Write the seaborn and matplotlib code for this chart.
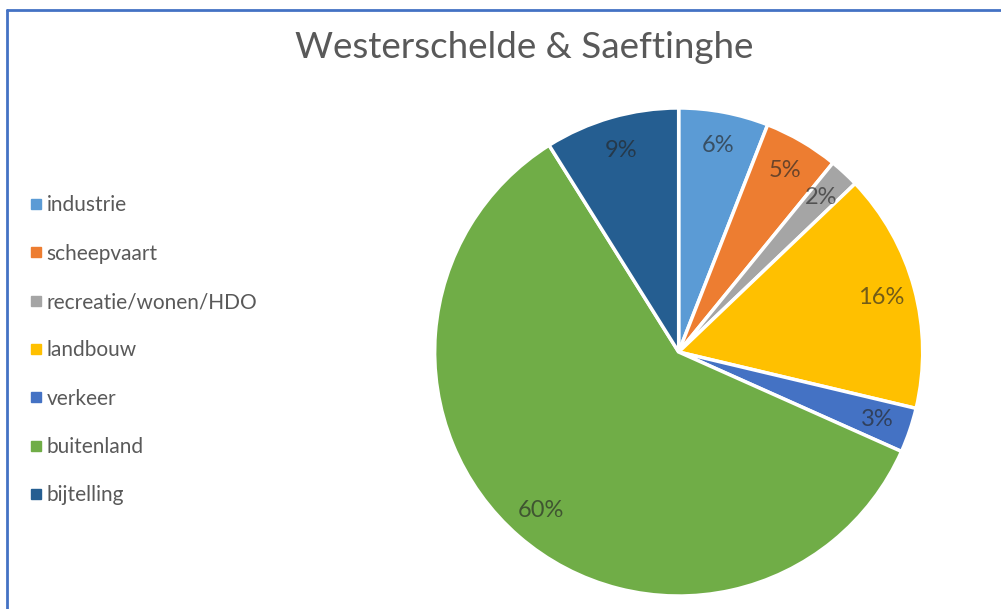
#%% import libraries
import matplotlib
matplotlib.use('Agg')
import matplotlib.pyplot as plt
import seaborn as sns
from matplotlib.lines import Line2D

#%% data
categories = ['industrie', 'scheepvaart', 'recreatie/wonen/HDO', 'landbouw',
              'verkeer', 'buitenland', 'bijtelling']
shares = [6, 5, 2, 16, 3, 60, 9]
colors = ['#5B9BD5', '#ED7D31', '#A5A5A5', '#FFC000', '#4472C4', '#70AD47', '#255E91']
title = 'Westerschelde & Saeftinghe'

#%% plot
sns.set_theme(style='white')
plt.rcParams['font.family'] = ['Lato', 'DejaVu Sans']
palette = sns.color_palette(colors)

fig = plt.figure(figsize=(10.01, 6.09), dpi=100)
ax = fig.add_axes([0.678 - 0.2438, 0.422 - 0.4007, 0.4876, 0.8014])

pct = iter(shares)
wedges, texts, autotexts = ax.pie(
    shares,
    colors=palette,
    startangle=90,
    counterclock=False,
    radius=1,
    autopct=lambda p: f'{next(pct)}%',
    pctdistance=0.86,
    wedgeprops={'edgecolor': 'white', 'linewidth': 2.5},
    textprops={'fontsize': 17, 'color': '#262626', 'alpha': 0.65},
)
ax.set_xlim(-1, 1)
ax.set_ylim(-1, 1)
ax.set_aspect('equal')

fig.text(0.524, 0.922, title, ha='center', va='center', fontsize=26.5, color='#595959')

handles = [Line2D([0], [0], marker='s', linestyle='', markersize=6.5,
                  markerfacecolor=c, markeredgecolor=c) for c in palette]
fig.legend(handles, categories, loc='upper left', bbox_to_anchor=(0.010, 0.710),
           frameon=False, fontsize=15, labelcolor='#595959', handletextpad=0.15,
           handlelength=0.7, labelspacing=1.36)

# blue frame at top and left
fig.add_artist(Line2D([0.007, 1.0], [0.983, 0.983], color='#4472C4', lw=2))
fig.add_artist(Line2D([0.007, 0.007], [0.0, 0.983], color='#4472C4', lw=2))

fig.savefig('out.png', dpi=100)
